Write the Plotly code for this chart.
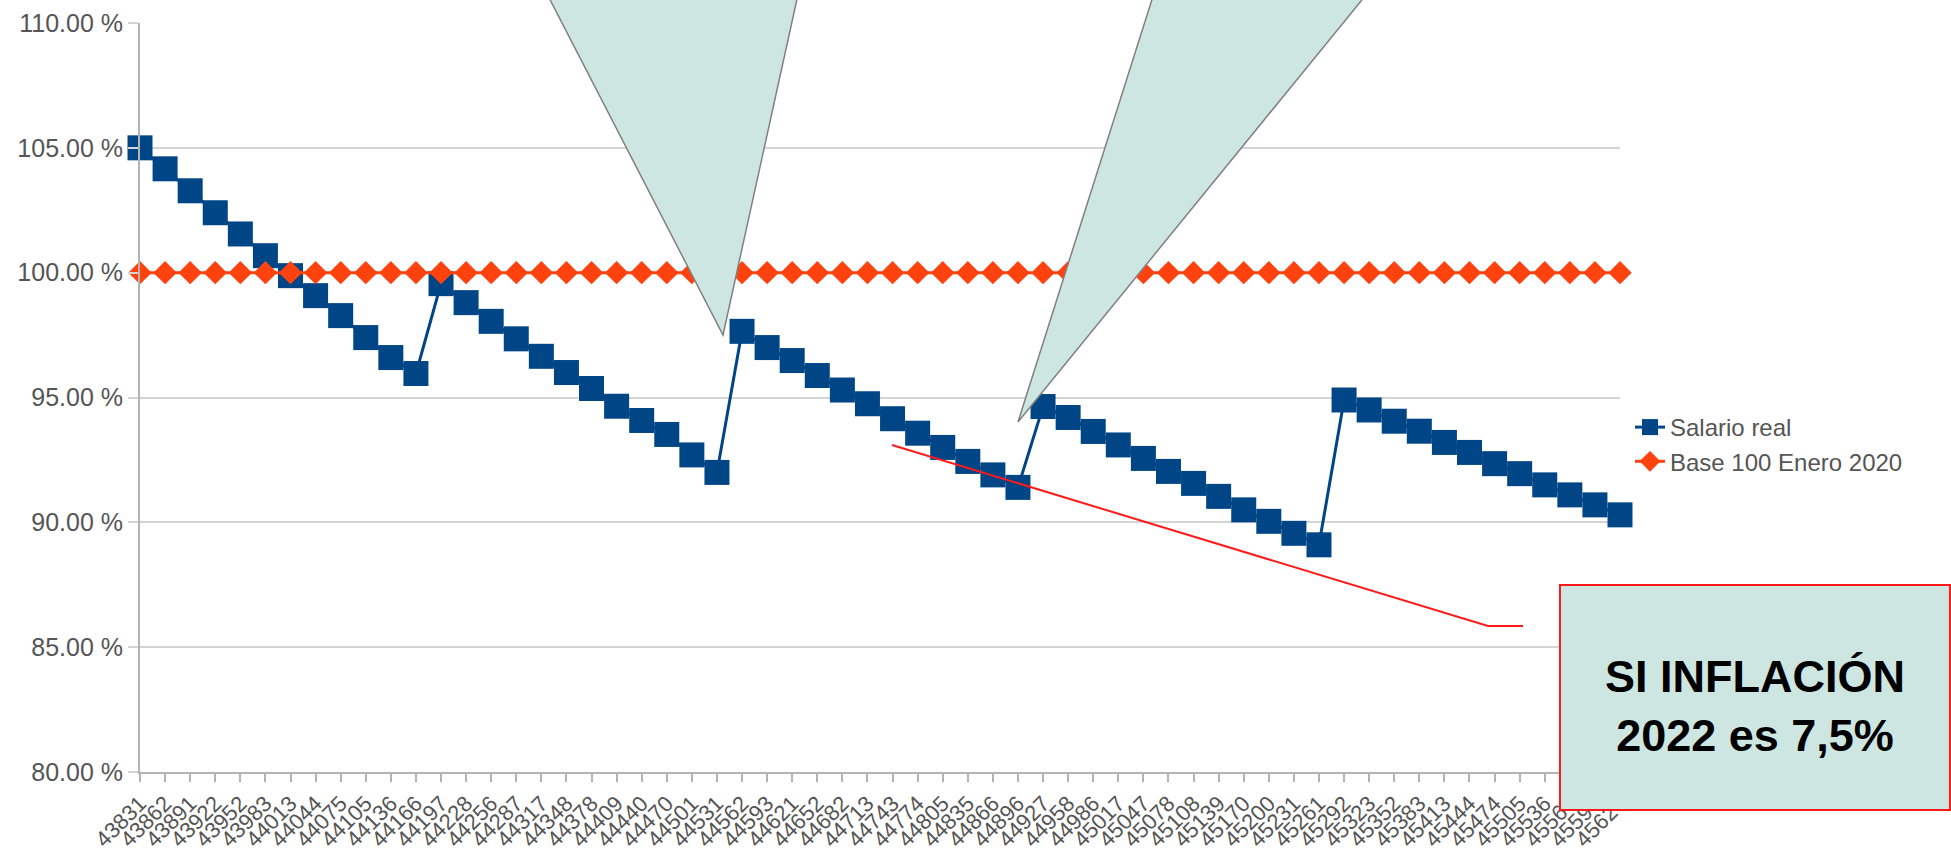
import plotly.graph_objects as go

# ---------------- data ----------------
date_labels = [
    "43831", "43862", "43891", "43922", "43952", "43983", "44013", "44044", "44075", "44105", "44136", "44166",
    "44197", "44228", "44256", "44287", "44317", "44348", "44378", "44409", "44440", "44470", "44501", "44531",
    "44562", "44593", "44621", "44652", "44682", "44713", "44743", "44774", "44805", "44835", "44866", "44896",
    "44927", "44958", "44986", "45017", "45047", "45078", "45108", "45139", "45170", "45200", "45231", "45261",
    "45292", "45323", "45352", "45383", "45413", "45444", "45474", "45505", "45536", "45566", "45597", "45627",
]

salario_real = [
    105.00, 104.16, 103.28, 102.40, 101.55, 100.68, 99.88, 99.08, 98.28, 97.40, 96.60, 95.96,
    99.56, 98.80, 98.05, 97.35, 96.65, 96.00, 95.36, 94.65, 94.08, 93.52, 92.70, 92.00,
    97.65, 97.00, 96.48, 95.88, 95.30, 94.75, 94.15, 93.57, 93.00, 92.44, 91.90, 91.40,
    94.64, 94.20, 93.64, 93.10, 92.56, 92.04, 91.56, 91.04, 90.50, 90.04, 89.56, 89.10,
    94.90, 94.50, 94.05, 93.65, 93.20, 92.80, 92.35, 91.95, 91.50, 91.10, 90.70, 90.30,
]

base_100 = [100.0] * 60

y_ticks = [80, 85, 90, 95, 100, 105, 110]
y_tick_labels = ["80.00 %", "85.00 %", "90.00 %", "95.00 %", "100.00 %", "105.00 %", "110.00 %"]

series_names = ["Salario real", "Base 100 Enero 2020"]
callout_text = "<b>SI INFLACIÓN<br>2022 es 7,5%</b>"

# ---------------- layout geometry (pixels) ----------------
W, H = 1951, 855
L, R, T, B = 140, 1620, 23, 772


def px(x):
    return (x - L) / (R - L)


def py(y):
    return (B - y) / (B - T)


BLUE = "#004586"
ORANGE = "#ff420e"
TEAL = "#cde6e2"
GRID = "#d4d4d4"
FONT = "Liberation Sans, Arial, sans-serif"

fig = go.Figure()
fig.add_trace(go.Scatter(
    x=date_labels, y=salario_real, name=series_names[0], mode="lines+markers",
    line=dict(color=BLUE, width=3),
    marker=dict(symbol="square", size=25, color=BLUE),
    cliponaxis=False,
))
fig.add_trace(go.Scatter(
    x=date_labels, y=base_100, name=series_names[1], mode="lines+markers",
    line=dict(color=ORANGE, width=3),
    marker=dict(symbol="diamond", size=18, color=ORANGE),
    cliponaxis=False,
))

shapes = []
# callout triangle 1
shapes.append(dict(
    type="path", xref="paper", yref="paper", layer="above",
    path=f"M {px(545)},{py(-10)} L {px(799)},{py(-10)} L {px(723)},{py(335)} Z",
    fillcolor=TEAL, line=dict(color="#808080", width=1.5),
))
# callout triangle 2
shapes.append(dict(
    type="path", xref="paper", yref="paper", layer="above",
    path=f"M {px(1155)},{py(-10)} L {px(1370)},{py(-10)} L {px(1018)},{py(422)} Z",
    fillcolor=TEAL, line=dict(color="#808080", width=1.5),
))
# red connector line
shapes.append(dict(
    type="path", xref="paper", yref="paper", layer="above",
    path=f"M {px(892)},{py(445)} L {px(1488)},{py(626)} L {px(1523)},{py(626)}",
    line=dict(color="#ff1a1a", width=2),
))
# text box
shapes.append(dict(
    type="rect", xref="paper", yref="paper", layer="above",
    x0=px(1560), x1=px(1950), y0=py(810), y1=py(585),
    fillcolor=TEAL, line=dict(color="#ff1a1a", width=2),
))

fig.update_layout(
    width=W, height=H,
    margin=dict(l=L, r=W - R, t=T, b=H - B, pad=0),
    paper_bgcolor="white", plot_bgcolor="white",
    font=dict(family=FONT, color="#555555"),
    showlegend=True,
    legend=dict(
        x=px(1630), y=py(405), xanchor="left", yanchor="top",
        font=dict(size=24, color="#555555", family=FONT),
        bgcolor="rgba(0,0,0,0)", itemwidth=30, tracegroupgap=0,
    ),
    shapes=shapes,
    annotations=[dict(
        xref="paper", yref="paper", x=px(1755), y=py(706),
        xanchor="center", yanchor="middle", showarrow=False,
        text=callout_text, align="center",
        font=dict(size=45, color="black", family=FONT),
    )],
)

fig.update_xaxes(
    type="category", range=[0, 59], showgrid=False,
    tickmode="linear", tick0=0, dtick=1,
    showline=True, linecolor="#b3b3b3", linewidth=2,
    ticks="outside", ticklen=8, tickcolor="#b3b3b3", tickwidth=1.5,
    tickangle=-45, tickfont=dict(size=22, color="#555555", family=FONT),
    automargin=False, zeroline=False,
)
fig.update_yaxes(
    range=[80, 110], tickvals=y_ticks, ticktext=y_tick_labels,
    showgrid=True, gridcolor=GRID, gridwidth=2,
    showline=True, linecolor="#b3b3b3", linewidth=2,
    ticks="outside", ticklen=10, tickcolor=GRID, tickwidth=2,
    tickfont=dict(size=25, color="#555555", family=FONT),
    automargin=False, zeroline=False,
)

fig.write_html(
    "out.html",
    config={"displayModeBar": False},
    post_script="document.body.style.margin='0';document.body.style.overflow='hidden';",
)
